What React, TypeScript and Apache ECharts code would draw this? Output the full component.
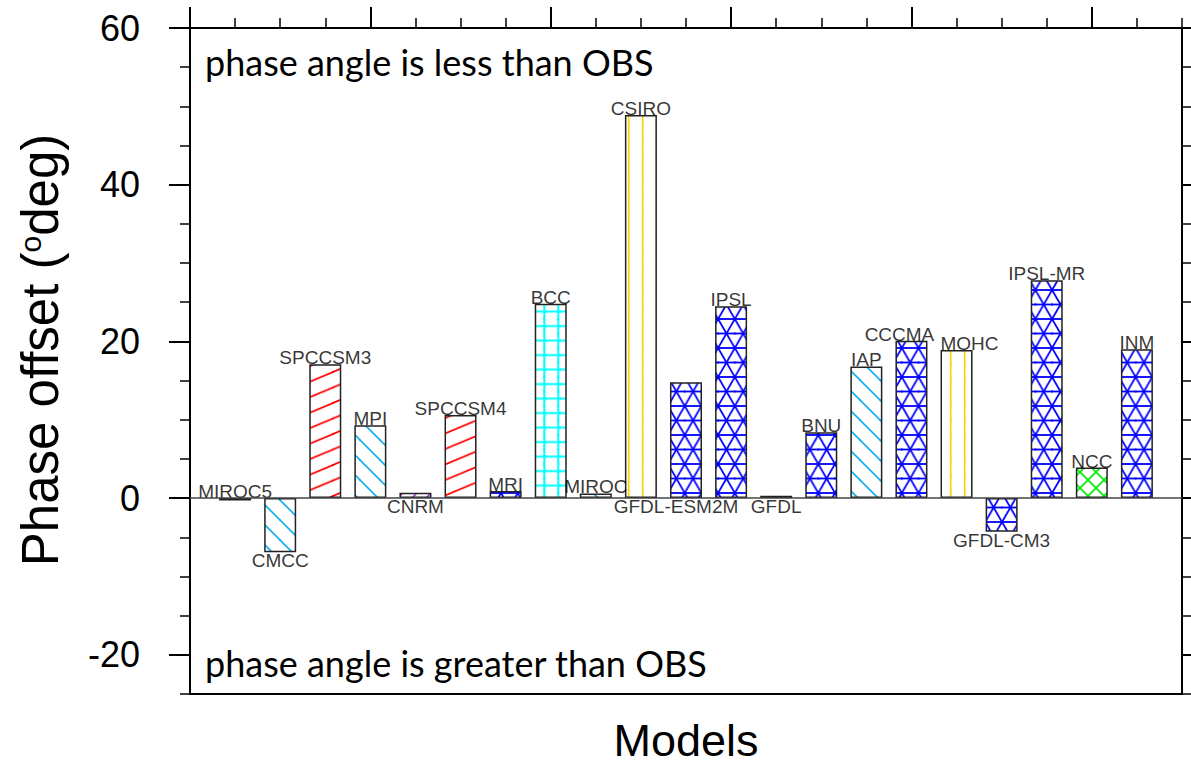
import React, { useEffect, useRef } from 'react';
import * as echarts from 'echarts';

// ---------------- data ----------------
const models = ['MIROC5', 'CMCC', 'SPCCSM3', 'MPI', 'CNRM', 'SPCCSM4', 'MRI', 'BCC', 'MIROC', 'CSIRO', 'GFDL-ESM2M', 'IPSL', 'GFDL', 'BNU', 'IAP', 'CCCMA', 'MOHC', 'GFDL-CM3', 'IPSL-MR', 'NCC', 'INM'];
const phaseOffset = [-0.3, -6.9, 17.1, 9.3, 0.7, 10.6, 0.9, 24.8, 0.6, 48.9, 14.8, 24.5, 0.3, 8.4, 16.8, 20.1, 18.9, -4.3, 27.8, 3.9, 19.0];
const labelSide = ['above', 'below', 'above', 'above', 'below', 'above', 'above', 'above', 'above', 'above', 'below', 'above', 'below', 'above', 'above', 'above', 'above', 'below', 'above', 'above', 'above'];
const yMajorTicks = [-20, 0, 20, 40, 60];
const xMajorTicks = [0, 4, 8, 12, 16, 20];

// ---------------- styles ----------------
const fillPatterns = ['xgreen', 'bcyan', 'sred', 'bcyan', 'spurple', 'sred', 'lblue', 'gcyan', 'bcyan', 'vgold', 'lblue', 'lblue', 'lblue', 'lblue', 'bcyan', 'lblue', 'vgold', 'lblue', 'lblue', 'xgreen', 'lblue'];
const labelShiftX: Record<string, number> = { 'GFDL-ESM2M': -10, CCCMA: -12, MOHC: 13 };

type Seg = [number, number, number, number];
function tile(w: number, h: number, segs: Seg[], color: string, sw: number) {
  let body = '';
  for (const [x1, y1, x2, y2] of segs) {
    for (const dx of [-w, 0, w]) {
      for (const dy of [-h, 0, h]) {
        body += `<line x1="${x1 + dx}" y1="${y1 + dy}" x2="${x2 + dx}" y2="${y2 + dy}"/>`;
      }
    }
  }
  const svg = `<svg xmlns="http://www.w3.org/2000/svg" width="${w}" height="${h}" viewBox="0 0 ${w} ${h}"><rect x="0" y="0" width="${w}" height="${h}" fill="#ffffff"/><g stroke="${color}" stroke-width="${sw}" fill="none" stroke-linecap="square">${body}</g></svg>`;
  return {
    image: 'data:image/svg+xml;charset=utf-8,' + encodeURIComponent(svg),
    repeat: 'repeat',
    imageWidth: w,
    imageHeight: h,
  };
}

const LW = 16.7, LH = 29;
const patterns: Record<string, any> = {
  bcyan: tile(20, 20, [[0, 0, 20, 20]], '#10aef0', 1.6),
  sred: tile(37, 15.5, [[0, 15.5, 37, 0]], '#ff0000', 1.7),
  spurple: tile(14, 14, [[0, 14, 14, 0]], '#9b30d9', 1.5),
  lblue: tile(LW, LH, [[0, 0, LW, 0], [0, LH / 2, LW, LH / 2], [0, 0, LW, LH], [LW, 0, 0, LH]], '#0000ff', 1.8),
  gcyan: tile(14, 14.5, [[12.3, 0, 12.3, 14.5], [0, 7.1, 14, 7.1]], '#00ffff', 2),
  vgold: tile(14, 14, [[12.7, 0, 12.7, 14]], '#ffd000', 1.6),
  xgreen: tile(16, 16, [[0, 0, 16, 16], [16, 0, 0, 16]], '#00ee00', 1.7),
};

const AX = '#000';
const axisFont = 'Liberation Sans, Arial, sans-serif';

const option: any = {
  animation: false,
  backgroundColor: '#ffffff',
  grid: { left: 190, right: 9, top: 28, bottom: 72, show: false, containLabel: false, outerBoundsMode: 'none' },
  xAxis: [
    {
      type: 'value', min: 0, max: 22, position: 'bottom',
      axisLine: { show: true, onZero: false, lineStyle: { color: AX, width: 2 } },
      axisTick: { show: false }, axisLabel: { show: false }, splitLine: { show: false },
      name: 'Models', nameLocation: 'middle', nameGap: 25,
      nameTextStyle: { fontFamily: axisFont, fontSize: 45, lineHeight: 42, color: '#000' },
    },
    {
      type: 'value', min: 0, max: 22, interval: 1, position: 'top',
      axisLine: { show: true, onZero: false, lineStyle: { color: AX, width: 2 } },
      axisTick: { show: true, length: 10, lineStyle: { color: AX, width: 1.5 } },
      axisLabel: { show: false }, splitLine: { show: false },
    },
    {
      type: 'value', min: 0, max: 22, position: 'top',
      axisLine: { show: false, onZero: false },
      axisTick: { show: true, length: 21, customValues: xMajorTicks, lineStyle: { color: AX, width: 2 } },
      axisLabel: { show: false }, splitLine: { show: false },
    },
  ],
  yAxis: [
    {
      type: 'value', min: -25, max: 60, position: 'left',
      axisLine: { show: true, onZero: false, lineStyle: { color: AX, width: 2 } },
      axisTick: { show: true, length: 21, customValues: yMajorTicks, lineStyle: { color: AX, width: 2 } },
      axisLabel: { show: true, customValues: yMajorTicks, margin: 50, fontFamily: axisFont, fontSize: 36, color: '#000' },
      splitLine: { show: false },
      name: 'Phase offset ({sup|o}deg)', nameLocation: 'middle', nameGap: 124,
      nameTextStyle: {
        fontFamily: axisFont, fontSize: 51, color: '#000', padding: [0, 0, 0, 22],
        rich: { sup: { fontFamily: axisFont, fontSize: 30, color: '#000', verticalAlign: 'top' } },
      },
    },
    {
      type: 'value', min: -25, max: 60, interval: 5, position: 'left',
      axisLine: { show: false, onZero: false },
      axisTick: { show: true, length: 10, lineStyle: { color: AX, width: 1.5 } },
      axisLabel: { show: false }, splitLine: { show: false },
    },
    {
      type: 'value', min: -25, max: 60, interval: 5, position: 'right',
      axisLine: { show: true, onZero: false, lineStyle: { color: AX, width: 2 } },
      axisTick: { show: true, length: 10, lineStyle: { color: AX, width: 1.5 } },
      axisLabel: { show: false }, splitLine: { show: false },
    },
    {
      type: 'value', min: -25, max: 60, position: 'right',
      axisLine: { show: false, onZero: false },
      axisTick: { show: true, length: 21, customValues: yMajorTicks, lineStyle: { color: AX, width: 2 } },
      axisLabel: { show: false }, splitLine: { show: false },
    },
  ],
  graphic: [
    {
      type: 'text', x: 205, y: 62, silent: true,
      style: { text: 'phase angle is less than OBS', fontFamily: 'Lato', fontSize: 36, fill: '#000', verticalAlign: 'middle' },
    },
    {
      type: 'text', x: 205, y: 663, silent: true,
      style: { text: 'phase angle is greater than OBS', fontFamily: 'Lato', fontSize: 36, fill: '#000', verticalAlign: 'middle' },
    },
  ],
  series: [
    {
      type: 'bar', xAxisIndex: 0, yAxisIndex: 0, barWidth: 32,
      emphasis: { disabled: true }, silent: true,
      itemStyle: { borderColor: '#222', borderWidth: 1.5 },
      data: models.map((m, i) => ({
        name: m,
        value: [i + 1, phaseOffset[i]],
        itemStyle: { color: patterns[fillPatterns[i]], borderColor: '#222', borderWidth: 1.5 },
      })),
      markLine: {
        silent: true, symbol: ['none', 'none'], label: { show: false },
        lineStyle: { color: '#444', width: 1.5, type: 'solid' },
        data: [{ yAxis: 0 }],
      },
    },
    {
      type: 'scatter', xAxisIndex: 0, yAxisIndex: 0, symbolSize: 0, silent: true,
      emphasis: { disabled: true },
      label: { show: true, formatter: '{b}', fontFamily: axisFont, fontSize: 19, color: '#000' },
      data: models.map((m, i) => {
        const above = labelSide[i] === 'above';
        return {
          name: m,
          value: [i + 1, above ? Math.max(phaseOffset[i], 0) : Math.min(phaseOffset[i], 0)],
          label: {
            position: above ? 'top' : 'bottom',
            distance: above ? -3 : -1,
            offset: [labelShiftX[m] || 0, 0],
          },
        };
      }),
    },
  ],
};

export default function App() {
  const ref = useRef<HTMLDivElement>(null);
  useEffect(() => {
    const chart = echarts.init(ref.current!, null, { renderer: 'svg' });
    chart.setOption(option);
    return () => chart.dispose();
  }, []);
  return (
    <div
      ref={ref}
      style={{ position: 'absolute', left: 0, top: 0, width: 1191, height: 766, background: '#fff' }}
    />
  );
}
